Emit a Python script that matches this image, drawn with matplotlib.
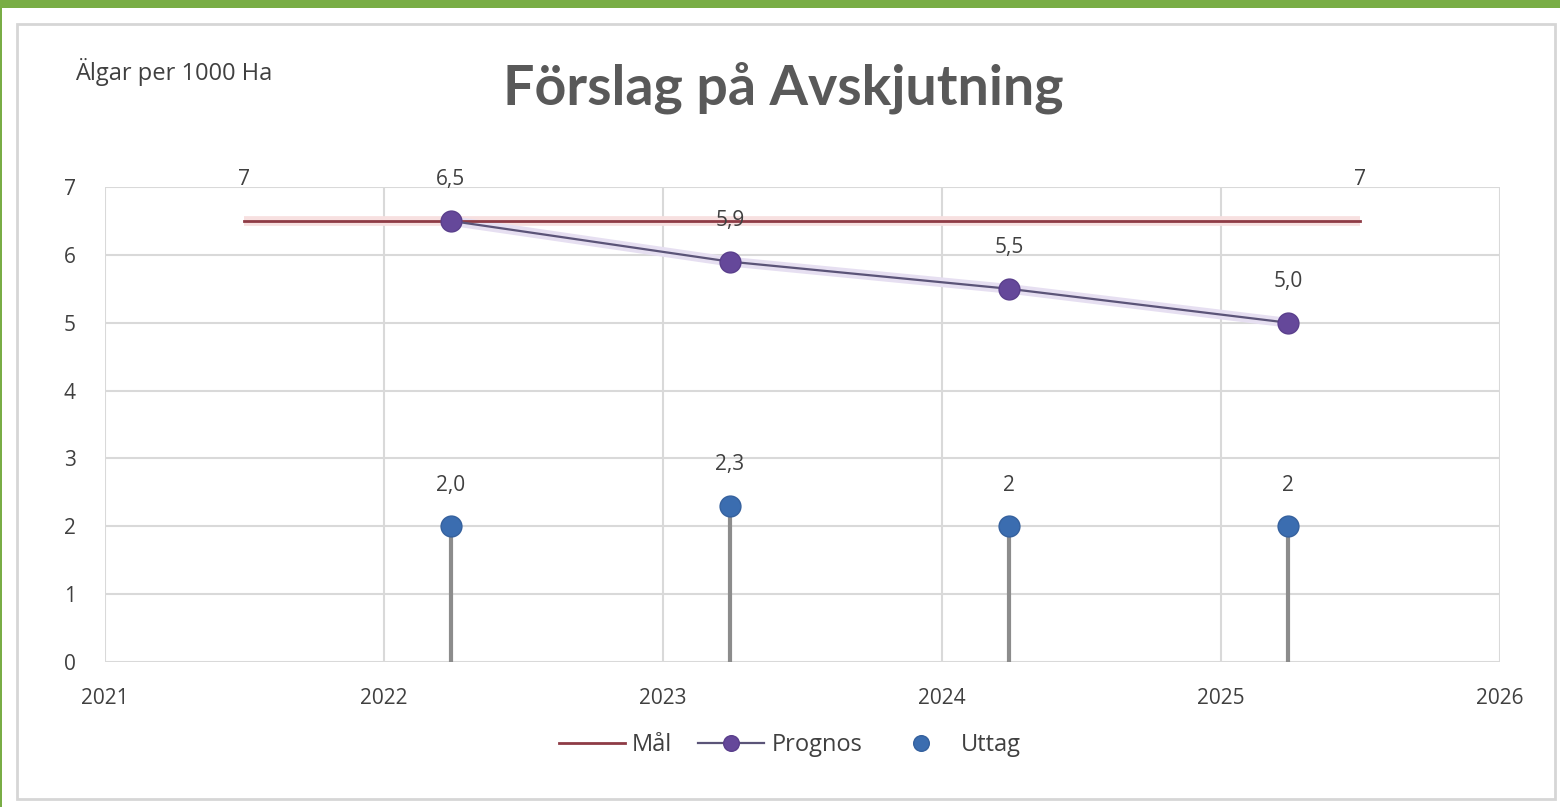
import matplotlib.pyplot as plt
from matplotlib.patches import Rectangle

# data
mal_x = [2021.5, 2025.5]
mal_y = [6.5, 6.5]
mal_labels = ["7", "7"]

prognos_x = [2022.24, 2023.24, 2024.24, 2025.24]
prognos_y = [6.5, 5.9, 5.5, 5.0]
prognos_labels = ["6,5", "5,9", "5,5", "5,0"]

uttag_x = [2022.24, 2023.24, 2024.24, 2025.24]
uttag_y = [2.0, 2.3, 2.0, 2.0]
uttag_labels = ["2,0", "2,3", "2", "2"]

x_ticks = [2021, 2022, 2023, 2024, 2025, 2026]
y_ticks = [0, 1, 2, 3, 4, 5, 6, 7]

text_col = '#404040'
small_font = 'Open Sans'
fs = 15

fig = plt.figure(figsize=(15.6, 8.07), dpi=100)
fig.patch.set_facecolor('white')

# green banner at top and left edge, grey chart frame
fig.add_artist(Rectangle((0, 1 - 8 / 807), 1, 8 / 807, transform=fig.transFigure,
                         facecolor='#79ad45', edgecolor='none'))
fig.add_artist(Rectangle((0, 0), 2 / 1560, 1, transform=fig.transFigure,
                         facecolor='#79ad45', edgecolor='none'))
fig.add_artist(Rectangle((17 / 1560, 1 - 799 / 807), 1538 / 1560, 775 / 807,
                         transform=fig.transFigure, facecolor='none',
                         edgecolor='#d6d6d6', linewidth=2))

ax = fig.add_axes([105 / 1560, 1 - 662 / 807, 1395 / 1560, 475 / 807])
ax.set_xlim(2021, 2026)
ax.set_ylim(0, 7)
ax.set_xticks(x_ticks)
ax.set_yticks(y_ticks)
ax.grid(True, color='#d9d9d9', linewidth=1.5)
ax.set_axisbelow(True)
for s in ax.spines.values():
    s.set_visible(False)
ax.tick_params(length=0, labelsize=fs, labelcolor=text_col)
ax.tick_params(axis='x', pad=19)
ax.tick_params(axis='y', pad=21)
for lab in ax.get_xticklabels() + ax.get_yticklabels():
    lab.set_fontfamily(small_font)


def put_labels(xs, ys, texts):
    for x, y, t in zip(xs, ys, texts):
        ax.annotate(t, (x, y), xytext=(0, 29.5), textcoords='offset points', ha='center',
                    va='center', fontsize=fs, color=text_col, family=small_font)


# Mål line
ax.plot(mal_x, mal_y, color='#f7e0e0', linewidth=7, solid_capstyle='butt', zorder=2)
mal_line, = ax.plot(mal_x, mal_y, color='#8e3b45', linewidth=2, label='Mål', zorder=3)
put_labels(mal_x, mal_y, mal_labels)

# Prognos line
ax.plot(prognos_x, prognos_y, color='#e6dff1', linewidth=7, zorder=2)
prog_line, = ax.plot(prognos_x, prognos_y, color='#5b5478', linewidth=1.6, marker='o',
                     markersize=15, markerfacecolor='#65489a', markeredgecolor='#5a3f8c',
                     markeredgewidth=1, label='Prognos', zorder=4)
put_labels(prognos_x, prognos_y, prognos_labels)

# Uttag with drop lines
ax.vlines(uttag_x, 0, uttag_y, color='#8c8c8c', linewidth=3, zorder=3)
utt_pts, = ax.plot(uttag_x, uttag_y, linestyle='none', marker='o', markersize=15,
                   markerfacecolor='#3b6db0', markeredgecolor='#35619e',
                   markeredgewidth=1, label='Uttag', zorder=5)
put_labels(uttag_x, uttag_y, uttag_labels)

# titles
fig.text(783 / 1560, 1 - 88 / 807, 'Förslag på Avskjutning', ha='center', va='center',
         fontsize=40, fontweight='bold', color='#595959', family='Lato')
fig.text(75 / 1560, 1 - 72 / 807, 'Älgar per 1000 Ha', ha='left', va='center',
         fontsize=17, color=text_col, family=small_font)

leg = fig.legend(handles=[mal_line, prog_line, utt_pts], loc='center',
                 bbox_to_anchor=(790 / 1560, 1 - 745 / 807), ncol=3, frameon=False,
                 fontsize=fs + 2, handlelength=2.8, columnspacing=1.1, handletextpad=0.3,
                 markerscale=0.75)
for t in leg.get_texts():
    t.set_color(text_col)
    t.set_fontfamily(small_font)

plt.savefig('out.png', dpi=100)
